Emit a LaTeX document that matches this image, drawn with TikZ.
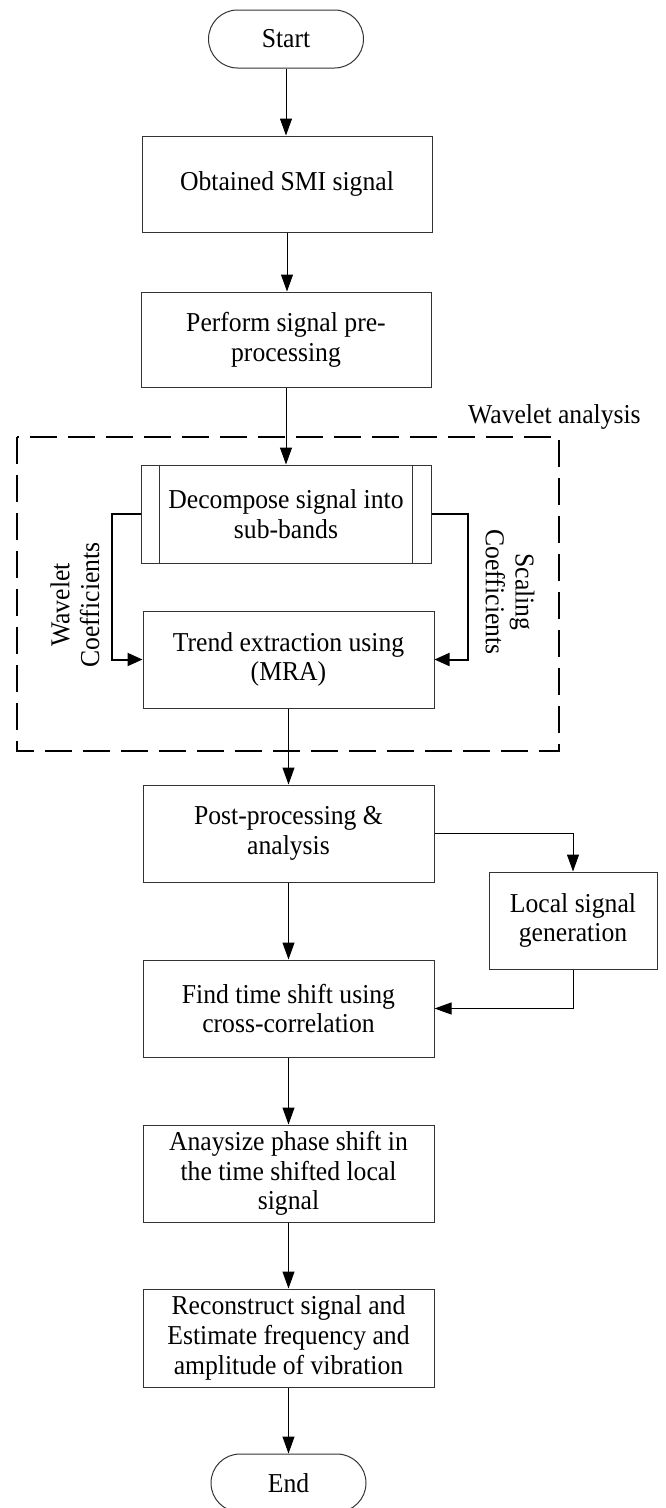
\documentclass[tikz,border=0pt]{standalone}
\usepackage{fontspec}
\setmainfont{Liberation Serif}[FakeStretch=0.94]
\usetikzlibrary{arrows.meta,calc}
\begin{document}
\begin{tikzpicture}[x=1pt,y=-1pt,
  every node/.style={font=\fontsize{27.3}{29.8}\selectfont},
  box/.style={draw=black!80, line width=1pt, minimum width=290pt,
    minimum height=96pt, align=center, inner sep=0pt},
  term/.style={draw=black!80, line width=1pt, rounded corners=29pt,
    minimum width=155pt, minimum height=58pt, inner sep=0pt},
  flow/.style={draw, line width=1pt, -{Triangle[length=17pt,width=12pt]}},
  coef/.style={draw, line width=2pt, -{Triangle[length=15pt,width=13pt]}},
  group/.style={draw, line width=1.3pt, dash pattern=on 27pt off 11pt},
  side/.style={align=center, inner sep=0pt}
]
\useasboundingbox (0,0) rectangle (666,1508);

% wavelet analysis group frame
\draw[group] (17,437) rectangle (559,751);
\node[anchor=base west, inner sep=0pt] (wlab) at (468,423) {Wavelet analysis};

% process steps
\node[term] (start) at (286,39) {Start};
\node[box] (obt) at (287,184) {Obtained SMI signal};
\node[box, minimum height=95pt] (pre) at (286,339.5) {Perform signal pre-\\processing};
\node[box, minimum height=98pt] (dec) at (286,514) {Decompose signal into\\sub-bands};
\draw[black!80, line width=1pt] ($(dec.north west)+(19,0)$) -- ($(dec.south west)+(19,0)$);
\draw[black!80, line width=1pt] ($(dec.north east)+(-19,0)$) -- ($(dec.south east)+(-19,0)$);
\node[box, minimum width=291pt, minimum height=97pt] (trend) at (288.5,659.5) {Trend extraction using\\(MRA)};
\node[box, minimum width=291pt, minimum height=97pt] (post) at (288.5,833.5) {Post-processing \&\\analysis};
\node[box, minimum width=168pt, minimum height=97pt] (local) at (573,920.5) {Local signal\\generation};
\node[box, minimum width=291pt, minimum height=97pt] (find) at (288.5,1008.5) {Find time shift using\\cross-correlation};
\node[box, minimum width=291pt, minimum height=97pt] (phase) at (288.5,1173.5) {Anaysize phase shift in\\the time shifted local\\signal};
\node[box, minimum width=291pt, minimum height=98pt] (rec) at (288.5,1338) {Reconstruct signal and\\Estimate frequency and\\amplitude of vibration};
\node[term] (end) at (288.5,1483) {End};

% coefficient labels
\node[side, rotate=90] (wcoef) at (75,605) {Wavelet\\Coefficients};
\node[side, rotate=-90] (scoef) at (510,592) {Scaling\\Coefficients};

% main flow
\draw[flow] (start.south) -- (start.south |- obt.north);
\draw[flow] (obt.south) -- (obt.south |- pre.north);
\draw[flow] (pre.south) -- (dec.north);
\draw[flow] (trend.south) -- (post.north);
\draw[flow] (post.south) -- (find.north);
\draw[flow] (find.south) -- (phase.north);
\draw[flow] (phase.south) -- (rec.north);
\draw[flow] (rec.south) -- (end.north);

% side branch
\draw[flow] (post.east) -| (local.north);
\draw[flow] (local.south) |- (find.east);

% coefficient paths
\draw[coef] (dec.west) -- ++(-29,0) |- (trend.west);
\draw[coef] (dec.east) -- ++(36,0) |- (trend.east);
\end{tikzpicture}
\end{document}
